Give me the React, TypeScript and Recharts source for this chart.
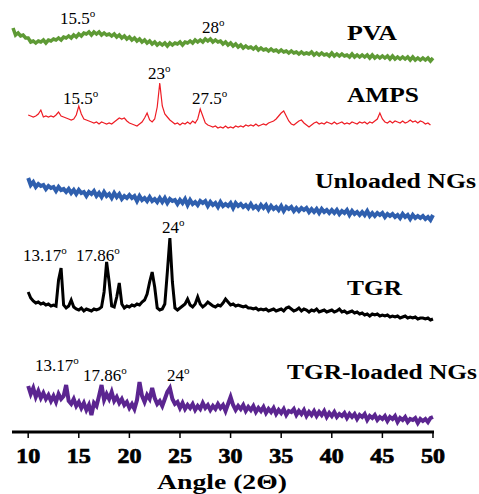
import { LineChart, Line, XAxis, YAxis } from "recharts";

// XRD scans, 0.25 deg step. Values are stacked (offset) intensities, a.u.
const scanStep = 0.25;

const pvaStart = 8.5;
const pvaCounts = [
  404, 397,
  399, 396, 397, 394, 394, 390, 391, 389, 391, 390, 392, 389,
  392, 391, 393, 392, 394, 392, 395, 394, 396, 394, 397, 395,
  398, 396, 399, 398, 400, 397, 400, 398, 400, 397, 399, 397,
  398, 396, 398, 395, 397, 394, 396, 393, 395, 392, 394, 391,
  393, 390, 392, 389, 391, 388, 390, 387, 389, 387, 389, 386,
  389, 387, 389, 388, 390, 387, 390, 389, 391, 389, 392, 390,
  392, 390, 393, 391, 393, 390, 392, 390, 391, 388, 390, 387,
  389, 386, 388, 385, 387, 384, 386, 384, 385, 383, 385, 382,
  384, 382, 383, 381, 383, 381, 382, 380, 382, 380, 381, 379,
  381, 379, 380, 378, 380, 378, 379, 378, 380, 377, 379, 377,
  379, 377, 378, 376, 379, 376, 378, 376, 378, 376, 377, 375,
  378, 375, 377, 375, 377, 375, 377, 374, 377, 374, 376, 374,
  376, 374, 376, 373, 376, 373, 375, 373, 375, 373, 375, 372,
  375, 372, 374, 372, 374, 372, 374, 371, 374,
];

const ampsStart = 10;
const ampsCounts = [
  317, 316, 315, 316, 318, 322, 315, 316, 315, 316, 315, 317,
  320, 316, 315, 314, 313, 312, 313, 317, 326, 318, 313, 312,
  311, 310, 309, 310, 308, 310, 309, 308, 309, 308, 310, 312,
  314, 313, 314, 311, 309, 308, 307, 306, 308, 310, 314, 319,
  312, 310, 313, 325, 349, 326, 318, 315, 312, 310, 308, 309,
  307, 309, 308, 310, 308, 311, 309, 313, 323, 316, 309, 307,
  306, 305, 306, 304, 305, 304, 306, 304, 305, 304, 306, 305,
  306, 305, 307, 306, 307, 306, 308, 306, 307, 308, 307, 309,
  310, 311, 313, 316, 319, 321, 316, 311, 308, 307, 309, 311,
  312, 309, 307, 305, 307, 309, 310, 308, 309, 308, 310, 309,
  308, 310, 308, 309, 310, 308, 309, 308, 310, 309, 308, 310,
  309, 310, 308, 310, 309, 311, 313, 319, 313, 310, 309, 311,
  309, 311, 310, 309, 311, 309, 310, 312, 310, 311, 309, 311,
  310, 308, 309, 307,
];

const unloadedStart = 10;
const unloadedCounts = [
  254, 247, 250, 245, 248, 246, 247, 243, 246, 244, 245, 241,
  245, 242, 243, 240, 243, 239, 242, 238, 242, 239, 240, 236,
  240, 238, 241, 236, 239, 235, 240, 236, 238, 234, 239, 235,
  238, 233, 236, 234, 237, 234, 236, 231, 236, 232, 234, 231,
  235, 231, 233, 230, 234, 230, 234, 229, 233, 231, 232, 228,
  232, 229, 233, 227, 232, 228, 230, 227, 231, 229, 231, 226,
  230, 227, 229, 225, 230, 226, 228, 226, 229, 224, 229, 226,
  228, 225, 227, 224, 228, 224, 226, 223, 227, 224, 227, 222,
  226, 223, 225, 222, 226, 221, 225, 223, 225, 221, 224, 221,
  224, 222, 224, 220, 223, 220, 223, 219, 223, 220, 222, 219,
  222, 219, 222, 218, 221, 219, 222, 217, 221, 218, 220, 217,
  220, 217, 221, 216, 219, 216, 219, 217, 219, 215, 218, 216,
  218, 215, 217, 214, 218, 215, 217, 213, 217, 214, 216, 214,
  216, 213, 215, 212, 217,
];

const tgrStart = 10;
const tgrCounts = [
  140, 134, 131, 129, 130, 128, 129, 127, 128, 126, 127, 126,
  152, 164, 127, 124, 126, 132, 125, 123, 122, 124, 121, 123,
  122, 121, 123, 122, 123, 125, 140, 170, 150, 126, 125, 135,
  149, 128, 124, 126, 125, 127, 126, 128, 127, 130, 132, 138,
  150, 160, 145, 124, 122, 123, 128, 160, 194, 150, 124, 122,
  124, 126, 128, 133, 127, 125, 128, 135, 128, 125, 127, 130,
  128, 126, 125, 127, 126, 129, 133, 130, 127, 128, 126, 127,
  126, 125, 126, 124, 124, 123, 124, 122, 123, 122, 123, 121,
  122, 123, 121, 122, 123, 121, 124, 125, 123, 121, 122, 124,
  121, 123, 122, 120, 122, 121, 123, 120, 121, 122, 120, 121,
  122, 120, 121, 123, 120, 121, 119, 120, 121, 119, 120, 118,
  119, 117, 118, 116, 118, 117, 118, 116, 117, 116, 117, 115,
  116, 115, 116, 114, 115, 116, 114, 115, 114, 115, 113, 114,
  114, 113, 114, 112, 113,
];

const loadedStart = 10;
const loadedCounts = [
  46, 38, 44, 35, 41, 34, 39, 33, 37, 31, 36, 30,
  38, 33, 36, 47, 31, 28, 33, 26, 30, 24, 29, 22,
  27, 17, 29, 26, 36, 47, 32, 38, 33, 40, 31, 35,
  29, 33, 27, 30, 24, 28, 23, 32, 50, 36, 30, 37,
  33, 44, 34, 28, 31, 26, 33, 40, 44, 33, 28, 30,
  24, 29, 23, 27, 24, 28, 22, 26, 23, 29, 24, 27,
  22, 26, 23, 28, 24, 27, 21, 28, 35, 27, 22, 26,
  23, 27, 21, 25, 22, 26, 20, 24, 21, 25, 19, 23,
  20, 24, 18, 22, 19, 23, 17, 21, 20, 23, 17, 21,
  18, 22, 16, 20, 17, 21, 16, 20, 17, 21, 15, 19,
  16, 20, 15, 18, 16, 19, 14, 18, 15, 18, 13, 17,
  15, 18, 12, 16, 14, 17, 12, 15, 13, 16, 11, 15,
  13, 16, 10, 14, 12, 15, 10, 13, 12, 14, 9, 13,
  11, 13, 10, 14, 15,
];

const angleTicks = [10, 15, 20, 25, 30, 35, 40, 45, 50];

const toPoints = (start: number, counts: number[]) =>
  counts.map((v, i) => ({ angle: start + i * scanStep, v }));

const serif = "'Liberation Serif', 'Times New Roman', serif";

const AngleTick = (props: any) => {
  const { x, y, payload } = props;
  return (
    <text
      x={x}
      y={y + 23}
      textAnchor="middle"
      fill="#000"
      stroke="#000"
      strokeWidth={0.7}
      textLength={24}
      lengthAdjust="spacingAndGlyphs"
      style={{ fontFamily: serif, fontWeight: 700, fontSize: 21 }}
    >
      {payload.value}
    </text>
  );
};

const Peak = ({ x, y, text }: { x: number; y: number; text: string }) => (
  <text x={x} y={y} fontFamily={serif} fontSize={17} fill="#000">
    {text}
    <tspan fontSize={11} dy={-7}>o</tspan>
  </text>
);

const Name = ({ x, y, w, text, size = 20 }: { x: number; y: number; w: number; text: string; size?: number }) => (
  <text
    x={x}
    y={y}
    fontFamily={serif}
    fontWeight="bold"
    fontSize={size}
    fill="#000"
    textLength={w}
    lengthAdjust="spacingAndGlyphs"
  >
    {text}
  </text>
);

export default function App() {
  return (
    <div style={{ position: "fixed", left: 0, top: 0, width: 479, height: 494, background: "#fff" }}>
      <LineChart width={479} height={494} margin={{ top: 0, right: 45, bottom: 0, left: 12 }}>
        <XAxis
          type="number"
          dataKey="angle"
          domain={[8.4, 50.1]}
          ticks={angleTicks}
          height={62}
          axisLine={{ stroke: "#000", strokeWidth: 3 }}
          tickLine={{ stroke: "#000", strokeWidth: 1.5 }}
          tickSize={6}
          tick={<AngleTick />}
        />
        <YAxis hide type="number" domain={[0, 432]} />
        <Line data={toPoints(pvaStart, pvaCounts)} dataKey="v" stroke="#5e9a35" strokeWidth={3.5} dot={false} isAnimationActive={false} />
        <Line data={toPoints(ampsStart, ampsCounts)} dataKey="v" stroke="#ee1c24" strokeWidth={1.2} dot={false} isAnimationActive={false} />
        <Line data={toPoints(unloadedStart, unloadedCounts)} dataKey="v" stroke="#2f5fae" strokeWidth={4} dot={false} isAnimationActive={false} />
        <Line data={toPoints(tgrStart, tgrCounts)} dataKey="v" stroke="#000" strokeWidth={3} dot={false} isAnimationActive={false} />
        <Line data={toPoints(loadedStart, loadedCounts)} dataKey="v" stroke="#5b2590" strokeWidth={4} dot={false} isAnimationActive={false} />
      </LineChart>
      <svg width={479} height={494} style={{ position: "absolute", left: 0, top: 0, pointerEvents: "none" }}>
        <Peak x={60} y={24} text="15.5" />
        <Peak x={202} y={33} text="28" />
        <Peak x={63} y={104} text="15.5" />
        <Peak x={148} y={79} text="23" />
        <Peak x={192} y={104} text="27.5" />
        <Peak x={23} y={261} text="13.17" />
        <Peak x={76} y={261} text="17.86" />
        <Peak x={162} y={233} text="24" />
        <Peak x={35} y={371} text="13.17" />
        <Peak x={83} y={381} text="17.86" />
        <Peak x={167} y={381} text="24" />
        <Name x={347} y={40} w={50} text="PVA" />
        <Name x={347} y={102} w={72} text="AMPS" />
        <Name x={315} y={188} w={161} text="Unloaded NGs" />
        <Name x={347} y={295} w={55} text="TGR" />
        <Name x={287} y={379} w={190} text="TGR-loaded NGs" size={21} />
        <text
          x={222}
          y={489}
          textAnchor="middle"
          fontFamily={serif}
          fontWeight="bold"
          fontSize={20}
          fill="#000"
          textLength={130}
          lengthAdjust="spacingAndGlyphs"
        >
          Angle (2Θ)
        </text>
      </svg>
    </div>
  );
}
